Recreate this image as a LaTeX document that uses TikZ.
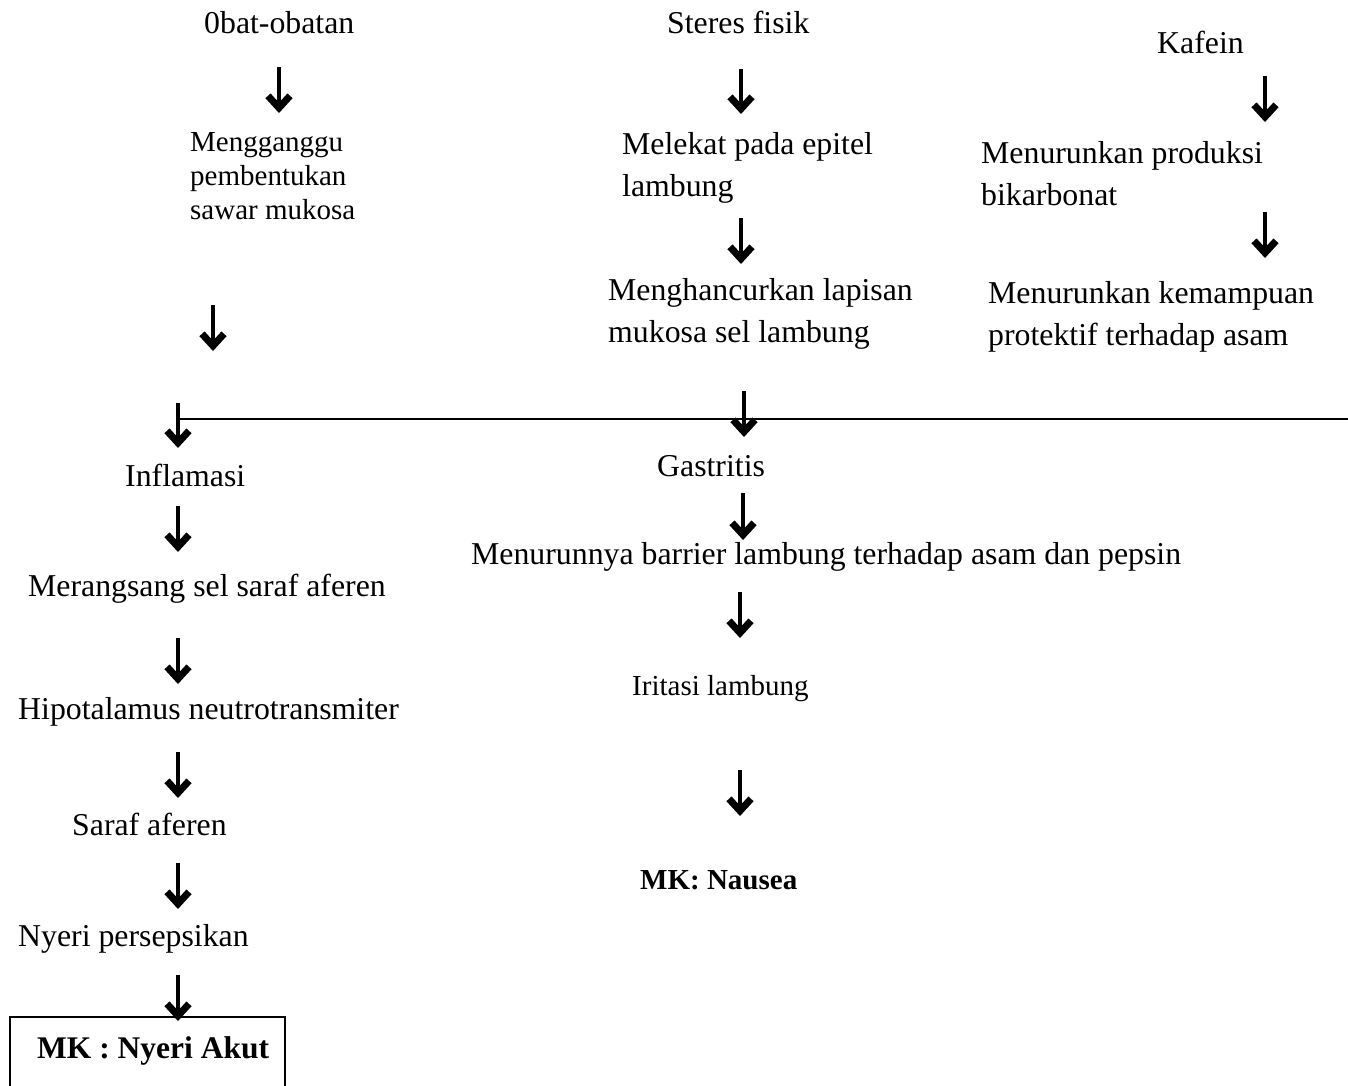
\documentclass[tikz,border=0pt]{standalone}
\usepackage{fontspec}
\setmainfont{Liberation Serif}
\usetikzlibrary{arrows.meta}

\begin{document}
\begin{tikzpicture}[
    x=1pt, y=-1pt,
    txt/.style={font=\fontsize{31.8}{42}\selectfont, align=left, inner sep=0pt, anchor=north west},
    txtsmall/.style={txt, font=\fontsize{29}{34}\selectfont},
    txtbold/.style={txt, font=\fontsize{31.5}{42}\selectfont\bfseries},
    txtsmallbold/.style={txt, font=\fontsize{29}{34}\selectfont\bfseries},
    arr/.style={line width=4.5pt, -{Straight Barb[length=12pt, width=22pt, line width=7pt]}},
    hline/.style={line width=2pt}
]
    \useasboundingbox (0,0) rectangle (1348,1085);

    % causes
    \node[txt] (obat) at (204,11) {0bat-obatan};
    \node[txt] (stres) at (667,11) {Steres fisik};
    \node[txt] (kafein) at (1157,31) {Kafein};

    \node[txtsmall] (ganggu) at (190,132) {Mengganggu\\pembentukan\\sawar mukosa};
    \node[txt] (lekat) at (622,132) {Melekat pada epitel\\lambung};
    \node[txt] (bikarb) at (981,141) {Menurunkan produksi\\bikarbonat};
    \node[txt] (hancur) at (608,278) {Menghancurkan lapisan\\mukosa sel lambung};
    \node[txt] (protek) at (988,281) {Menurunkan kemampuan\\protektif terhadap asam};

    % left branch
    \node[txt] (inflam) at (125,464) {Inflamasi};
    \node[txt] (rangsang) at (28,574) {Merangsang sel saraf aferen};
    \node[txt] (hipo) at (18,697) {Hipotalamus neutrotransmiter};
    \node[txt] (saraf) at (72,813) {Saraf aferen};
    \node[txt] (nyeri) at (18,924) {Nyeri persepsikan};
    \node[txtbold] (akut) at (37,1036) {MK : Nyeri Akut};
    \draw[line width=1.3pt] (10,1017) rectangle (285,1110);

    % middle branch
    \node[txt] (gastr) at (657,455) {Gastritis};
    \node[txt] (barrier) at (471,542) {Menurunnya barrier lambung terhadap asam dan pepsin};
    \node[txtsmall] (iritasi) at (632,675) {Iritasi lambung};
    \node[txtsmallbold] (nausea) at (640,870) {MK: Nausea};

    % joining line
    \coordinate (hl) at (178,419);
    \coordinate (hr) at (1348,419);
    \draw[hline] (hl) -- (hr);

    % arrows
    \coordinate (a1) at (279,67); \coordinate (b1) at (279,113); \draw[arr] (a1) -- (b1);
    \coordinate (a2) at (741,69); \coordinate (b2) at (741,114); \draw[arr] (a2) -- (b2);
    \coordinate (a3) at (1265,76); \coordinate (b3) at (1265,122); \draw[arr] (a3) -- (b3);
    \coordinate (a4) at (741,218); \coordinate (b4) at (741,264); \draw[arr] (a4) -- (b4);
    \coordinate (a5) at (1265,212); \coordinate (b5) at (1265,258); \draw[arr] (a5) -- (b5);
    \coordinate (a6) at (213,305); \coordinate (b6) at (213,351); \draw[arr] (a6) -- (b6);
    \coordinate (a7) at (178,403); \coordinate (b7) at (178,448); \draw[arr] (a7) -- (b7);
    \coordinate (a8) at (744,391); \coordinate (b8) at (744,437); \draw[arr] (a8) -- (b8);
    \coordinate (a9) at (178,506); \coordinate (b9) at (178,552); \draw[arr] (a9) -- (b9);
    \coordinate (a10) at (743,493); \coordinate (b10) at (743,540); \draw[arr] (a10) -- (b10);
    \coordinate (a11) at (178,638); \coordinate (b11) at (178,684); \draw[arr] (a11) -- (b11);
    \coordinate (a12) at (740,592); \coordinate (b12) at (740,638); \draw[arr] (a12) -- (b12);
    \coordinate (a13) at (178,752); \coordinate (b13) at (178,798); \draw[arr] (a13) -- (b13);
    \coordinate (a14) at (740,770); \coordinate (b14) at (740,816); \draw[arr] (a14) -- (b14);
    \coordinate (a15) at (178,863); \coordinate (b15) at (178,909); \draw[arr] (a15) -- (b15);
    \coordinate (a16) at (178,975); \coordinate (b16) at (178,1021); \draw[arr] (a16) -- (b16);
\end{tikzpicture}
\end{document}
